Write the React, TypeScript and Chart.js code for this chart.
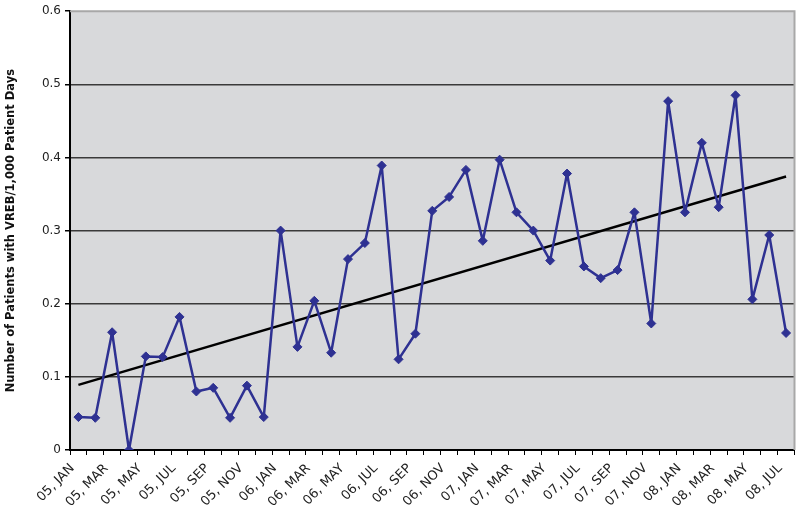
import React, { useEffect, useRef } from "react";
import { Chart, registerables } from "chart.js";

Chart.register(...registerables);

const years = ["05", "06", "07", "08"];
const months = ["JAN", "FEB", "MAR", "APR", "MAY", "JUN", "JUL", "AUG", "SEP", "OCT", "NOV", "DEC"];
const categories: string[] = [];
years.forEach((y) => months.forEach((m) => categories.push(`${y}, ${m}`)));
const labels = categories.slice(0, 43);

const vrebRate = [
  0.045, 0.044, 0.161, 0.0, 0.128, 0.127, 0.182, 0.08, 0.085, 0.044, 0.088, 0.045,
  0.3, 0.141, 0.204, 0.133, 0.261, 0.283, 0.389, 0.124, 0.159, 0.327, 0.346, 0.383,
  0.286, 0.397, 0.325, 0.3, 0.259, 0.378, 0.251, 0.235, 0.246, 0.325, 0.173, 0.477,
  0.325, 0.42, 0.332, 0.485, 0.206, 0.294, 0.16,
];

const trendStart = 0.089;
const trendEnd = 0.374;
const trend = labels.map((_, i) => (i === 0 ? trendStart : i === labels.length - 1 ? trendEnd : null));

const yTicks = [0, 0.1, 0.2, 0.3, 0.4, 0.5, 0.6];

const bgPlugin = {
  id: "plotBg",
  beforeDraw(chart: any) {
    const { ctx, chartArea } = chart;
    ctx.save();
    ctx.fillStyle = "#D8D9DB";
    ctx.fillRect(chartArea.left, chartArea.top, chartArea.right - chartArea.left, chartArea.bottom - chartArea.top);
    ctx.restore();
  },
  beforeDatasetsDraw(chart: any) {
    const { ctx, chartArea } = chart;
    ctx.save();
    ctx.strokeStyle = "#A8A8A8";
    ctx.lineWidth = 2;
    ctx.beginPath();
    ctx.moveTo(chartArea.left, chartArea.top);
    ctx.lineTo(chartArea.right, chartArea.top);
    ctx.lineTo(chartArea.right, chartArea.bottom);
    ctx.stroke();
    ctx.restore();
  },
};

export default function App() {
  const ref = useRef<HTMLCanvasElement | null>(null);
  useEffect(() => {
    if (!ref.current) return;
    const chart = new Chart(ref.current, {
      type: "line",
      data: {
        labels,
        datasets: [
          {
            label: "VREB",
            data: vrebRate,
            borderColor: "#2E3192",
            backgroundColor: "#2E3192",
            borderWidth: 2.5,
            borderJoinStyle: "round",
            pointStyle: "rectRot",
            pointRadius: 4.5,
            pointBorderWidth: 1,
            tension: 0,
          },
          {
            label: "Trend",
            data: trend,
            borderColor: "#000000",
            borderWidth: 2.5,
            pointRadius: 0,
            spanGaps: true,
          },
        ],
      },
      options: {
        animation: false,
        responsive: false,
        maintainAspectRatio: false,
        layout: { padding: { top: 10, right: 1, left: 0, bottom: 0 } },
        plugins: { legend: { display: false }, tooltip: { enabled: false } },
        scales: {
          x: {
            offset: true,
            grid: {
              offset: true,
              drawOnChartArea: false,
              drawTicks: true,
              tickLength: 5,
              color: "#000",
            },
            border: { color: "#000", width: 2 },
            ticks: {
              autoSkip: false,
              maxRotation: 45,
              minRotation: 45,
              padding: 0,
              color: "#222",
              font: { family: "DejaVu Sans", size: 13 },
              callback: (v: any, i: number) => (i % 2 === 0 ? labels[i] + "  " : ""),
            },
            afterFit: (s: any) => {
              s.height = 57;
            },
          },
          y: {
            min: 0,
            max: 0.6,
            afterBuildTicks: (s: any) => {
              s.ticks = yTicks.map((v) => ({ value: v }));
            },
            grid: {
              color: (c: any) => (c.tick && c.tick.value === 0.6 ? "rgba(0,0,0,0)" : "#3A3A3A"),
              tickColor: "#000",
              tickLength: 5,
              lineWidth: 1.5,
            },
            border: { color: "#000", width: 2 },
            ticks: {
              color: "#222",
              font: { family: "DejaVu Sans", size: 12 },
              padding: 4,
              callback: (v: any) => String(v),
            },
            title: {
              display: true,
              text: "Number of Patients with VREB/1,000 Patient Days",
              color: "#111",
              font: { family: "DejaVu Sans", size: 11.5, weight: "bold" },
              padding: { top: 4, bottom: 4 },
            },
            afterFit: (s: any) => {
              s.width = 70;
            },
          },
        },
      },
      plugins: [bgPlugin],
    });
    return () => chart.destroy();
  }, []);
  return (
    <div style={{ position: "absolute", left: 0, top: 0, width: 800, height: 507, background: "#fff" }}>
      <canvas ref={ref} width={800} height={507} style={{ width: 800, height: 507 }} />
    </div>
  );
}
